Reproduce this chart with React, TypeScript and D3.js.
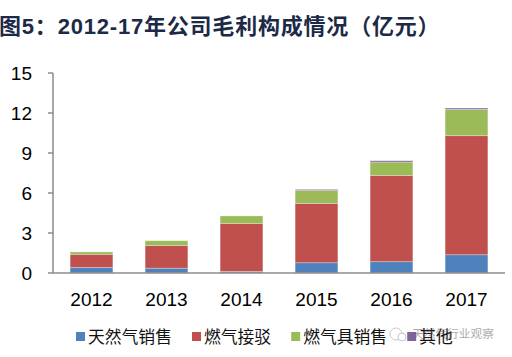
import React from "react";
import * as d3 from "d3";

const years = ["2012", "2013", "2014", "2015", "2016", "2017"];
const gasSales = [0.42, 0.36, 0.12, 0.77, 0.85, 1.37];
const connection = [0.98, 1.71, 3.6, 4.45, 6.47, 8.93];
const applianceSales = [0.18, 0.35, 0.56, 0.98, 1.0, 1.97];
const others = [0.0, 0.0, 0.0, 0.07, 0.1, 0.1];
const seriesNames = ["天然气销售", "燃气接驳", "燃气具销售", "其他"];
const seriesColors = ["#4F81BD", "#C0504D", "#9BBB59", "#8064A2"];
const yTicks = [0, 3, 6, 9, 12, 15];
const titleText = "图5：2012-17年公司毛利构成情况（亿元）";
const watermark = "天然气行业观察";

export default function App() {
  const W = 512, H = 357;
  const left = 54, right = 504, top = 73, bottom = 273;
  const x = d3.scaleBand<string>().domain(years).range([left, right]).paddingInner(0.43).paddingOuter(0.215);
  const y = d3.scaleLinear().domain([0, 15]).range([bottom, top]);
  const rows = years.map((yr, i) => ({ year: yr, a: gasSales[i], b: connection[i], c: applianceSales[i], d: others[i] }));
  const stack = d3.stack<any>().keys(["a", "b", "c", "d"]);
  const layers = stack(rows);
  const font = "Arial, 'Liberation Sans', sans-serif";
  const cjk = "'Noto Sans CJK SC', sans-serif";
  const legendFs = 16.8;
  let lx = 76;
  const legendItems = seriesNames.map((n, i) => {
    const item = { name: n, x: lx, color: seriesColors[i] };
    lx += 12 + n.length * legendFs + 20;
    return item;
  });
  return (
    <svg width={W} height={H} style={{ position: "absolute", left: 0, top: 0, background: "#fff" }}>
      <text x={-1} y={34} fontFamily={`Arial, ${cjk}`} fontWeight="bold" fontSize={22} letterSpacing={0.8} fill="#1C2A48">{titleText}</text>
      {layers.map((layer, li) => (
        <g key={li} fill={seriesColors[li]}>
          {layer.map((d, i) => {
            const h = y(d[0]) - y(d[1]);
            if (h <= 0) return null;
            return <rect key={i} x={x(years[i])} y={y(d[1])} width={x.bandwidth()} height={h} stroke="#ffffff" strokeOpacity={0.35} strokeWidth={0.8} />;
          })}
        </g>
      ))}
      <line x1={53} x2={53} y1={top} y2={bottom} stroke="#8C8C8C" strokeWidth={1.5} />
      {yTicks.map((t) => (
        <g key={t}>
          <line x1={48} x2={53} y1={y(t)} y2={y(t)} stroke="#8C8C8C" strokeWidth={1.5} />
          <text x={32} y={y(t)} dy="0.35em" textAnchor="end" fontFamily={font} fontSize={19} fill="#000">{t}</text>
        </g>
      ))}
      <line x1={53} x2={505} y1={bottom} y2={bottom} stroke="#8C8C8C" strokeWidth={1.5} />
      {years.map((yr) => (
        <text key={yr} x={x(yr)! + x.bandwidth() / 2} y={306} textAnchor="middle" fontFamily={font} fontSize={19} fill="#000">{yr}</text>
      ))}
      {legendItems.map((it) => (
        <g key={it.name}>
          <rect x={it.x} y={332} width={9} height={9} fill={it.color} />
          <text x={it.x + 12} y={343} fontFamily={cjk} fontSize={legendFs} fill="#111">{it.name}</text>
        </g>
      ))}
      <g opacity={0.55}>
        <circle cx={396} cy={334} r={6} fill="#fff" stroke="#999" strokeWidth={1} />
        <circle cx={402} cy={337} r={4} fill="#fff" stroke="#999" strokeWidth={1} />
        <text x={412} y={338} fontFamily={cjk} fontSize={11.7} fill="#666">{watermark}</text>
      </g>
    </svg>
  );
}
